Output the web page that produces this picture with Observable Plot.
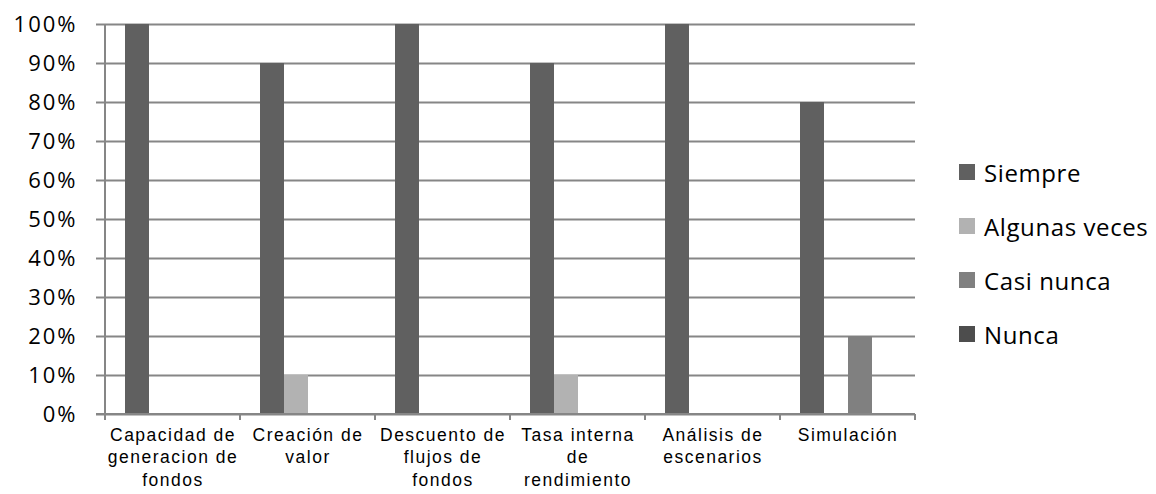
<!DOCTYPE html>
<html>
<head>
<meta charset="utf-8">
<script src="https://cdn.jsdelivr.net/npm/d3@7"></script>
<script src="https://cdn.jsdelivr.net/npm/@observablehq/plot@0.6"></script>
<style>
  html, body { margin: 0; padding: 0; background: #fff; }
  #wrap { position: relative; width: 1156px; height: 494px; overflow: hidden; }
  #chart svg { display: block; }
  #chart [aria-label="y-axis tick label"] { font-family: "Open Sans", sans-serif; font-size: 22px; letter-spacing: 2px; }
  #chart [aria-label="fx-axis tick label"] { font-family: "Liberation Sans", Arial, sans-serif; font-size: 17.5px; letter-spacing: 1.5px; }
  #legend { position: absolute; left: 959px; top: 145px; font-family: "Open Sans", sans-serif; font-size: 24px; letter-spacing: 0.6px; color: #000; }
  #legend .row { display: flex; align-items: center; height: 54px; }
  #legend .sw { width: 16px; height: 16px; margin-right: 9px; }
</style>
</head>
<body>
<div id="wrap">
  <div id="chart"></div>
  <div id="legend"></div>
</div>
<script>
// ---- data ----
const categories = ["Capacidad de generacion de fondos", "Creación de valor", "Descuento de flujos de fondos", "Tasa interna de rendimiento", "Análisis de escenarios", "Simulación"];
const categoryLabels = ["Capacidad de\ngeneracion de\nfondos", "Creación de\nvalor", "Descuento de\nflujos de\nfondos", "Tasa interna\nde\nrendimiento", "Análisis de\nescenarios", "Simulación"];
const series = ["Siempre", "Algunas veces", "Casi nunca", "Nunca"];
const siempre = [1.0, 0.9, 1.0, 0.9, 1.0, 0.8];
const algunasVeces = [0, 0.1, 0, 0.1, 0, 0];
const casiNunca = [0, 0, 0, 0, 0, 0.2];
const nunca = [0, 0, 0, 0, 0, 0];
const colors = ["#606060", "#b2b2b2", "#808080", "#4d4d4d"];
const yTicks = [0, 0.1, 0.2, 0.3, 0.4, 0.5, 0.6, 0.7, 0.8, 0.9, 1.0];

const valuesBySeries = [siempre, algunasVeces, casiNunca, nunca];
const rows = [];
categories.forEach((c, i) => series.forEach((s, j) => rows.push({category: c, series: s, value: valuesBySeries[j][i]})));
const labelOf = new Map(categories.map((c, i) => [c, categoryLabels[i]]));

const gray = "#868686";
const plot = Plot.plot({
  width: 930,
  height: 494,
  marginLeft: 105,
  marginRight: 15,
  marginTop: 24,
  marginBottom: 80,
  style: {background: "white", color: "black", overflow: "visible"},
  fx: {domain: categories, padding: 0, label: null},
  x: {domain: series, paddingInner: 0, paddingOuter: 0.8125, axis: null},
  y: {domain: [0, 1], label: null},
  color: {domain: series, range: colors},
  marks: [
    Plot.gridY(yTicks, {stroke: gray, strokeOpacity: 1, strokeWidth: 2}),
    Plot.axisY({ticks: yTicks, tickFormat: d3.format(".0%"), tickSize: 9, tickPadding: 19, stroke: gray, strokeWidth: 2, strokeOpacity: 1, fill: "black", fontSize: 22, label: null}),
    Plot.barY(rows.filter(d => d.value > 0), {fx: "category", x: "series", y: "value", fill: "series"}),
    Plot.axisFx({anchor: "bottom", tickSize: 0, tickPadding: 10, tickFormat: d => labelOf.get(d), fontSize: 17.5, lineHeight: 1.3, fill: "black", label: null})
  ]
});
document.getElementById("chart").appendChild(plot);

// axis line and category boundary ticks, placed with the plot's own scales
const fxS = plot.scale("fx");
const yS = plot.scale("y");
const band = d3.scaleBand(fxS.domain, fxS.range).padding(0);
const yScale = yS.apply ? yS.apply : d3.scaleLinear(yS.domain, yS.range);
const y0 = yScale(0), y1 = yScale(1);
const bounds = fxS.domain.map(c => band(c)).concat([band(fxS.domain[fxS.domain.length - 1]) + band.bandwidth()]);
const g = d3.select(plot).append("g").attr("stroke", gray).attr("stroke-width", 2);
g.append("line").attr("x1", bounds[0]).attr("x2", bounds[0]).attr("y1", y1).attr("y2", y0 + 6);
g.append("line").attr("x1", bounds[0] - 9).attr("x2", bounds[bounds.length - 1]).attr("y1", y0).attr("y2", y0);
bounds.forEach(b => g.append("line").attr("x1", b).attr("x2", b).attr("y1", y0).attr("y2", y0 + 6));

// legend
const legend = d3.select("#legend");
series.forEach((s, j) => {
  const r = legend.append("div").attr("class", "row");
  r.append("div").attr("class", "sw").style("background", colors[j]);
  r.append("span").text(s);
});
</script>
</body>
</html>
